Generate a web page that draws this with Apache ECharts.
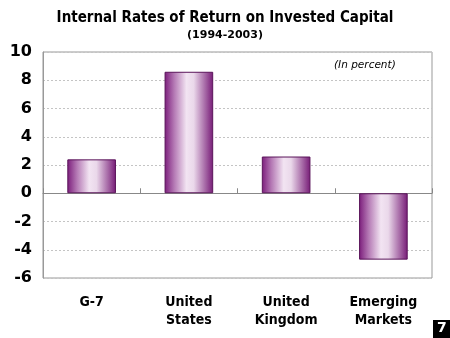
<!DOCTYPE html>
<html><head><meta charset="utf-8">
<script src="https://cdn.jsdelivr.net/npm/echarts@6/dist/echarts.min.js"></script>
<style>html,body{margin:0;padding:0;background:#fff}#c{width:450px;height:338px}</style>
</head><body><div id="c"></div>
<script>
const categories = ['G-7', 'United\nStates', 'United\nKingdom', 'Emerging\nMarkets'];
const values = [2.4, 8.6, 2.6, -4.7];
const yTicks = [-6, -4, -2, 0, 2, 4, 6, 8, 10];
const titleText = 'Internal Rates of Return on Invested Capital';
const subtitleText = '(1994-2003)';
const noteText = '(In percent)';
const pageNo = '7';

const chart = echarts.init(document.getElementById('c'), null, {renderer: 'canvas'});
const barGrad = new echarts.graphic.LinearGradient(0, 0, 1, 0, [
  {offset: 0, color: '#7b1c7b'},
  {offset: 0.2, color: '#b57ab5'},
  {offset: 0.45, color: '#f2e4f2'},
  {offset: 0.6, color: '#ead8ea'},
  {offset: 0.85, color: '#a262a2'},
  {offset: 1, color: '#761a76'}
]);
const font = 'DejaVu Sans';
const fontC = 'DejaVu Sans Condensed';
chart.setOption({
  animation: false,
  title: [
    {text: titleText, left: 'center', top: 6, textStyle: {fontFamily: fontC, fontWeight: 'bold', fontSize: 15, color: '#000'}},
    {text: subtitleText, left: 'center', top: 25, textStyle: {fontFamily: font, fontWeight: 'bold', fontSize: 11, color: '#000'}}
  ],
  grid: {left: 43, right: 18, top: 52, bottom: 60, show: true, borderColor: '#999', borderWidth: 1},
  xAxis: [
    {type: 'category', data: categories, position: 'bottom', axisLine: {show: false, onZero: false},
     axisTick: {show: false},
     axisLabel: {interval: 0, margin: 15, fontFamily: fontC, fontWeight: 'bold', fontSize: 14, color: '#000', lineHeight: 18}},
    {type: 'category', data: categories, position: 'top', axisLine: {show: true, onZero: true, lineStyle: {color: '#888', width: 1}},
     axisTick: {show: true, length: 5, lineStyle: {color: '#888'}}, axisLabel: {show: false}}
  ],
  yAxis: {type: 'value', min: -6, max: 10, interval: 2,
    axisLine: {show: true, lineStyle: {color: '#999'}}, axisTick: {show: false},
    splitLine: {show: true, lineStyle: {color: '#c4c4c4', type: [2, 2], width: 1}},
    axisLabel: {margin: 11, fontFamily: font, fontWeight: 'bold', fontSize: 16, color: '#000'}},
  series: [{type: 'bar', data: values, barWidth: '50%', xAxisIndex: 0,
    itemStyle: {color: barGrad, borderColor: '#5a145a', borderWidth: 1}}],
  graphic: [
    {type: 'text', left: 334, top: 60, style: {text: noteText, fontFamily: font, fontStyle: 'italic', fontSize: 10.5, fill: '#000'}},
    {type: 'rect', left: 433, top: 320, shape: {width: 17, height: 18}, style: {fill: '#000'}},
    {type: 'text', left: 437, top: 321, style: {text: pageNo, fontFamily: font, fontWeight: 'bold', fontSize: 14, fill: '#fff'}}
  ]
});
</script></body></html>
